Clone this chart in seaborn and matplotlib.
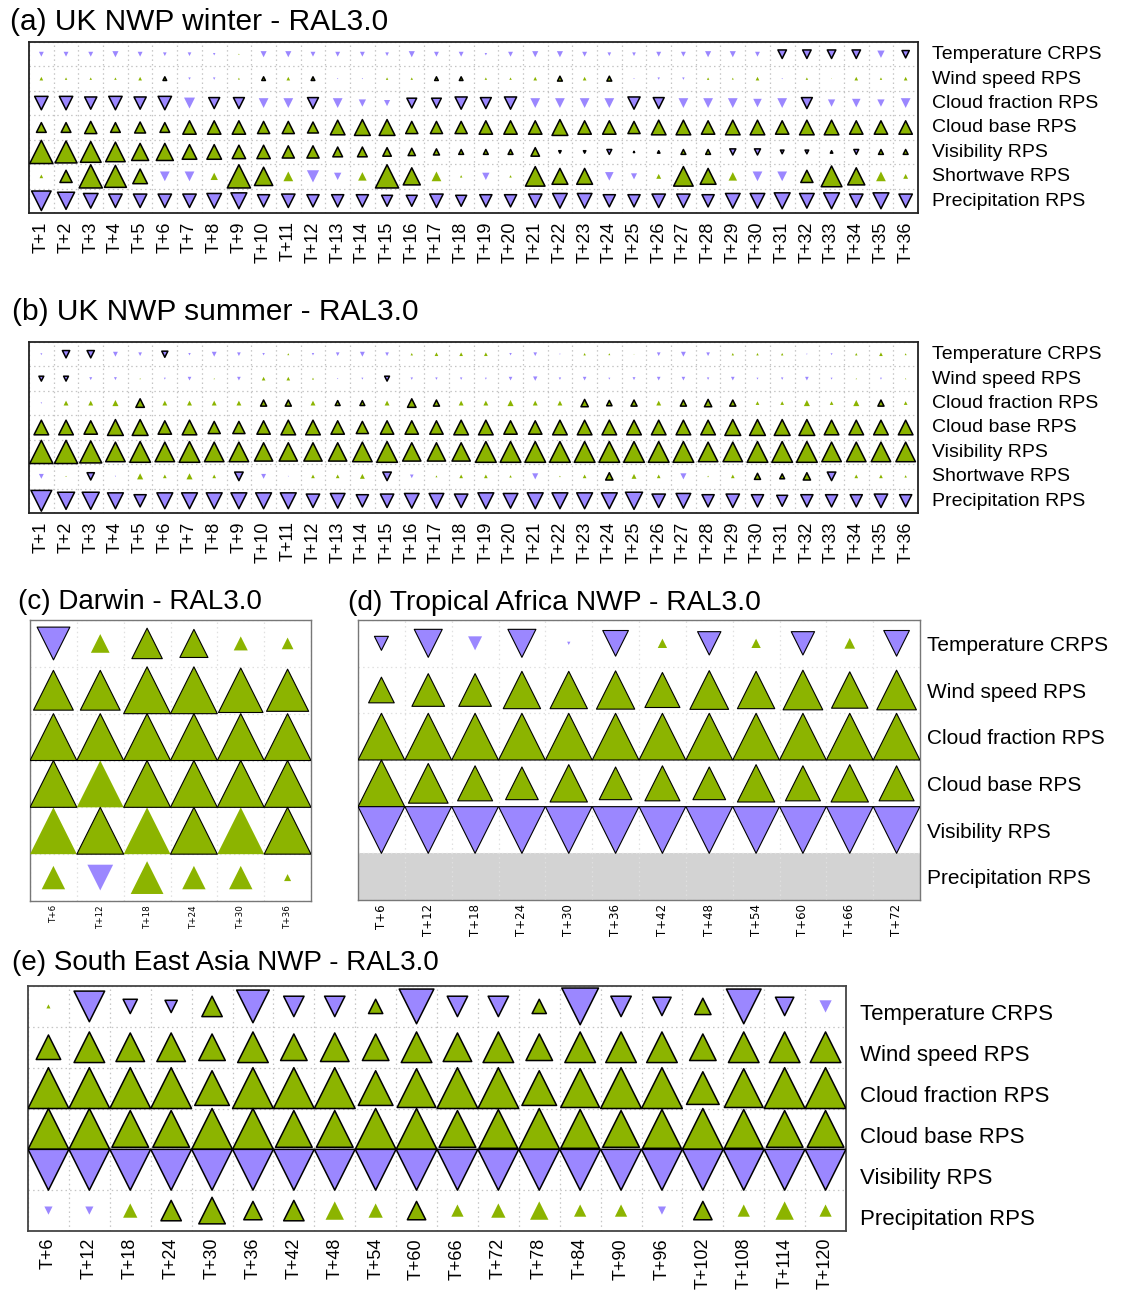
import numpy as np
import pandas as pd
import matplotlib
matplotlib.use("Agg")
import matplotlib.pyplot as plt
import matplotlib.transforms as mtransforms
import seaborn as sns

sns.set_style("white")
plt.rcParams["font.family"] = ["Liberation Sans", "DejaVu Sans"]
plt.rcParams["text.color"] = "black"
plt.rcParams["xtick.color"] = "black"
plt.rcParams["ytick.color"] = "black"

GREEN = "#8cb400"
PURPLE = "#9b87ff"

# ---------------- labels ----------------
uk_rows = ["Temperature CRPS", "Wind speed RPS", "Cloud fraction RPS", "Cloud base RPS",
           "Visibility RPS", "Shortwave RPS", "Precipitation RPS"]
trop_rows = ["Temperature CRPS", "Wind speed RPS", "Cloud fraction RPS", "Cloud base RPS",
             "Visibility RPS", "Precipitation RPS"]
uk_cols = ["T+%d" % h for h in range(1, 37)]
darwin_cols = ["T+6", "T+12", "T+18", "T+24", "T+30", "T+36"]
africa_cols = ["T+6", "T+12", "T+18", "T+24", "T+30", "T+36", "T+42", "T+48", "T+54", "T+60", "T+66", "T+72"]
sea_cols = ["T+6", "T+12", "T+18", "T+24", "T+30", "T+36", "T+42", "T+48", "T+54", "T+60",
            "T+66", "T+72", "T+78", "T+84", "T+90", "T+96", "T+102", "T+108", "T+114", "T+120"]

# signed symbol size (0-10): + = improvement (green up), - = degradation (purple down)
# significance: '1' = outlined symbol
winter_vals = [
    [-2, -2, -2, -2.5, -2, -1.5, -1.5, -1, 0.5, -2.5, -2.5, -2, -2, -2, -1.5, -2.5, -2, -2,
     -1, -2, -2.5, -2.5, -2, -1.5, -1.5, -2, -2, -2.5, -2.5, -2, -3.5, -3.5, -3.5, -3.5, -3, -3],
    [1.5, 1, 1, 1, 1.5, 1.5, -1, -1, 0.8, 1.5, 1.5, 1.5, -0.5, -0.5, 1, 1, 1.5, 1.5,
     1, 1, 1.5, 2, 1.5, 2, -0.5, -1, -1, 1, 0.8, 1.5, -0.5, 1, 0.3, 1.5, 1, 1.5],
    [-5.5, -5.5, -5, -5.5, -5, -5.5, -4.5, -4.5, -4.5, -4, -4, -4.5, -4, -3, -2.5, -4, -4, -5,
     -4.5, -5, -4, -4, -4, -4, -5, -4.5, -4, -4, -4, -3.5, -4, -4.5, -3, -3.5, -3, -4],
    [4, 4, 5, 4, 4.5, 4, 5.5, 5.5, 5.5, 5, 5, 4.5, 6, 6.5, 6.5, 5, 5, 5,
     5.5, 5.5, 5.5, 6.5, 5.5, 5.5, 5, 6, 6, 5.5, 6, 6, 5.5, 6, 6, 5.5, 5.5, 5.5],
    [9.5, 9, 8.5, 8, 7, 7, 6, 6, 5.5, 5.5, 5, 5, 4, 4, 3.5, 3, 2.5, 2,
     2, 2, 3.5, -1, -1, -2, 0.5, 1, 2, 2, -2.5, -2.5, -1.5, -1.5, 1, -2, 2, 2],
    [1.5, 5, 9.5, 9, 6, -4, -4, 3, 9.5, 7.5, 4, -5, -3, 3.5, 9.5, 7, 4, 1,
     -3, 1, 8, 6.5, 6.5, -3.5, -2.5, 2, 8, 6.5, 3.5, -4, -4, 5, 8.5, 7, 4, 2],
    [-8, -7, -6, -5.5, -5.5, -5.5, -5.5, -6, -6.5, -5, -5.5, -5, -5, -5, -4.5, -4.5, -5.5, -4.5,
     -5, -5, -5.5, -6, -6, -5, -5, -5.5, -5.5, -5, -6, -6, -6.5, -6, -6.5, -5.5, -6.5, -5.5],
]
winter_sig = [
    "000000000000000000" + "000000000000111101",
    "000001000101000011" + "000101000000000000",
    "111111011001000111" + "110000110000010000",
    "1" * 36,
    "1" * 36,
    "011110001100001100" + "001110001100011100",
    "1" * 36,
]

summer_vals = [
    [-0.8, -3, -3, -2, -1.5, -2.5, -1, -2, -1.5, -1, 0.8, -1, -1.5, -2, -1.5, 1, 1.5, 1.5,
     1.5, -1, -1.5, -0.5, 1, 0.8, 0.3, -1.5, -2, -1.5, 1, 1, 1, -0.5, -0.8, 1, 1.5, 0.8],
    [-2, -2, -1.2, -1.2, 0.5, -0.8, -1.5, 0.5, -1.5, 1.5, 1.5, 0.8, -0.5, -0.8, -2, -1, -1, -1,
     -0.8, -1.5, -1.8, -1, -1.5, -0.8, -1.2, -1.5, -1.5, -1, -1.5, -0.8, -1, -1.5, -0.8, 0.5, -0.8, 0.5],
    [-0.6, 2, 2, 2.5, 3.5, 2, 2, 2, 2, 2.5, 2.5, 2, 2, 2, 2, 3.5, 2.5, 2,
     2, 2.5, 2, 2, 3, 2.2, 2.5, 2, 2.5, 3, 2.5, 1.5, 1.5, 2.5, 1.5, 2.5, 2.5, 1.5],
    [6, 6, 5.5, 6.5, 6.5, 5.5, 6, 5, 5, 5.5, 6, 6, 5.5, 5, 5.5, 5.5, 5.5, 6,
     6, 5.5, 5.5, 6, 6, 6, 6, 6, 6, 6, 6.5, 6.5, 6.5, 6.5, 6, 6, 6, 6],
    [9.5, 9.5, 9, 8, 8.5, 8, 8.5, 8, 8, 7.5, 7.5, 7.5, 7.5, 8, 8.5, 7.5, 7.5, 7.5,
     8.5, 8.5, 8.5, 8.5, 8.5, 8.5, 8.5, 8.5, 8.5, 8, 8, 8.5, 8.5, 8.5, 8, 8, 8, 8],
    [-2, 0.5, -3, -0.5, 2.5, 1.5, 2.5, 1.5, -3.5, -2, -0.4, 1.5, 1.5, 2, -3.5, -1.5, 0.8, 1.5,
     1.5, 1, -2.5, 0.6, 1.5, 3, 2, 1.5, -2.5, 0.6, 1.5, 2.5, 2, 3, -3.5, 1.5, 1.5, 1],
    [-8.5, -7, -7, -6.5, -5, -6.5, -6.5, -6.5, -6.5, -6.5, -6.5, -5.5, -6, -5, -5.5, -6, -6, -5.5,
     -6.5, -6, -6.5, -6.5, -6.5, -6.5, -7, -5.5, -6, -5, -5.5, -5, -4.5, -5, -5, -5, -5.5, -5],
]
summer_sig = [
    "011001000000000000" + "0" * 18,
    "110000000000001000" + "0" * 18,
    "000010000110110110" + "000011101110000010",
    "1" * 36,
    "1" * 36,
    "001000001000001000" + "000001000001111000",
    "1" * 36,
]

darwin_vals = [
    [-7, 4, 6.5, 6, 3, 2.5],
    [8.5, 8.5, 10, 10, 9.5, 9],
    [10, 10, 10, 10, 10, 10],
    [10, 10, 10, 10, 10, 10],
    [10, 10, 10, 10, 10, 10],
    [5, -5.5, 7, 5, 5, 1.5],
]
darwin_sig = ["101100", "111111", "111111", "101111", "010101", "000000"]

africa_vals = [
    [-3, -6, -3, -6, -0.7, -5.5, 2, -5, 2, -5, 2.3, -5.5],
    [5.5, 7, 7, 8, 8, 8.2, 7.5, 8.3, 8, 8.5, 7.8, 8.5],
    [10, 10, 10, 10, 10, 10, 10, 10, 10, 10, 10, 10],
    [10, 8.5, 7.5, 7, 8, 7, 7.5, 7, 8, 7.5, 8, 7.5],
    [-10, -10, -10, -10, -10, -10, -10, -10, -10, -10, -10, -10],
    None,
]
africa_sig = ["110101010101", "1" * 12, "1" * 12, "1" * 12, "1" * 12, None]

sea_vals = [
    [1, -7.5, -3.5, -3, 5, -8, -5, -5, 3.5, -8.5, -5, -5, 3.5, -9, -5, -4.5, 4, -8.5, -4.5, -3],
    [6, 7.5, 7, 7, 6.5, 7.5, 6.5, 7, 6.5, 7.5, 7, 7.5, 6.5, 7.5, 7.5, 7.5, 6.5, 7.5, 7.5, 7.5],
    [10, 10, 10, 10, 8.5, 10, 10, 10, 8.5, 9.5, 10, 10, 8.5, 9.5, 10, 10, 8, 9.5, 10, 10],
    [10, 10, 9, 9, 10, 10, 9, 9, 10, 10, 9, 9.5, 10, 9.5, 9, 9.5, 10, 9.5, 9, 9],
    [-10] * 20,
    [-2, -2, 3.5, 5, 6.5, 4.5, 5, 4.5, 3.5, 4.5, 3, 3.5, 4.5, 3, 3, -2, 4.5, 3, 4.5, 3],
]
sea_sig = ["0111111111" + "1111111110", "1" * 20, "1" * 20, "1" * 20, "1" * 20,
           "0001111001" + "0000001000"]

# ---------------- figure ----------------
W, H = 1125, 1300
DPI = 100
fig = plt.figure(figsize=(W / DPI, H / DPI), dpi=DPI)


def add_ax(x0, y0, x1, y1):
    return fig.add_axes([x0 / W, 1 - y1 / H, (x1 - x0) / W, (y1 - y0) / H])


def draw_panel(ax, vals, sig, rows, cols, cell_px, edge_lw, spine_col, spine_lw,
               show_rows=True, row_fs=14, row_pad=10, tick_fs=13, tick_pad=5,
               tick_family=None, grey_row=None, grid_col="#c4c4c4", row_shift_px=0):
    nr, nc = len(rows), len(cols)
    cell_pt = cell_px * 72.0 / DPI
    recs = []
    for i in range(nr):
        rv, rs = vals[i], sig[i]
        if rv is None:
            continue
        for j in range(nc):
            v = rv[j]
            if v == 0:
                continue
            recs.append(dict(x=j, y=i, area=(abs(v) / 10.0 * cell_pt) ** 2,
                             dir="up" if v > 0 else "down", sig=rs[j] == "1"))
    df = pd.DataFrame(recs)
    for d, marker, color in [("up", "^", GREEN), ("down", "v", PURPLE)]:
        for s in (False, True):
            sub = df[(df["dir"] == d) & (df["sig"] == s)]
            if sub.empty:
                continue
            sizes = {a: a for a in sub["area"].unique()}
            sns.scatterplot(data=sub, x="x", y="y", size="area", sizes=sizes,
                            marker=marker, color=color,
                            edgecolor="black" if s else "none",
                            linewidth=edge_lw if s else 0,
                            legend=False, ax=ax, zorder=3)
    if grey_row is not None:
        ax.axhspan(grey_row - 0.5, grey_row + 0.5, color="#d3d3d3", zorder=0.5, lw=0)
    ax.set_xlim(-0.5, nc - 0.5)
    ax.set_ylim(nr - 0.5, -0.5)
    ax.set_xlabel("")
    ax.set_ylabel("")
    ax.set_xticks(range(nc))
    ax.set_xticklabels(cols, rotation=90, fontsize=tick_fs,
                       family=tick_family if tick_family else None)
    ax.set_xticks(np.arange(nc + 1) - 0.5, minor=True)
    ax.set_yticks(np.arange(nr + 1) - 0.5, minor=True)
    ax.grid(False)
    ax.grid(which="minor", linestyle=(0, (1.2, 2.5)), color=grid_col, linewidth=0.9, zorder=0)
    ax.set_axisbelow(True)
    ax.yaxis.tick_right()
    ax.set_yticks(range(nr))
    if show_rows:
        ax.set_yticklabels(rows, fontsize=row_fs)
    else:
        ax.set_yticklabels([])
    ax.tick_params(axis="x", which="both", length=0, pad=tick_pad)
    ax.tick_params(axis="y", which="both", length=0, pad=row_pad)
    if row_shift_px:
        off = mtransforms.ScaledTranslation(0, -row_shift_px / DPI, fig.dpi_scale_trans)
        for lab in ax.get_yticklabels():
            lab.set_transform(lab.get_transform() + off)
    for sp in ax.spines.values():
        sp.set_visible(True)
        sp.set_color(spine_col)
        sp.set_linewidth(spine_lw)


ax_a = add_ax(29, 42, 918, 213)
draw_panel(ax_a, winter_vals, winter_sig, uk_rows, uk_cols, 171 / 7, 1.1, "#222222", 1.3,
           row_fs=14, row_pad=10, tick_fs=13, tick_pad=6, row_shift_px=-1.5)
ax_b = add_ax(29, 342, 918, 513)
draw_panel(ax_b, summer_vals, summer_sig, uk_rows, uk_cols, 171 / 7, 1.1, "#222222", 1.3,
           row_fs=14, row_pad=10, tick_fs=13, tick_pad=6, row_shift_px=-1.5)
ax_c = add_ax(30, 620, 311, 901)
draw_panel(ax_c, darwin_vals, darwin_sig, trop_rows, darwin_cols, 281 / 6, 0.8, "#777777", 1.0,
           show_rows=False, tick_fs=6.3, tick_pad=3, tick_family="DejaVu Sans",
           grid_col="#e0e0e0")
ax_d = add_ax(358, 620, 920, 900)
draw_panel(ax_d, africa_vals, africa_sig, trop_rows, africa_cols, 280 / 6, 0.8, "#777777", 1.0,
           row_fs=15, row_pad=5, tick_fs=8.5, tick_pad=3, tick_family="DejaVu Sans",
           grey_row=5, grid_col="#e0e0e0")
ax_e = add_ax(28, 986, 846, 1231)
draw_panel(ax_e, sea_vals, sea_sig, trop_rows, sea_cols, 245 / 6, 1.1, "#444444", 1.3,
           row_fs=16, row_pad=10, tick_fs=13, tick_pad=5, row_shift_px=6)

fig.text(10 / W, 1 - 22 / H, "(a) UK NWP winter - RAL3.0", fontsize=21.5, va="center", ha="left")
fig.text(12 / W, 1 - 312 / H, "(b) UK NWP summer - RAL3.0", fontsize=21.5, va="center", ha="left")
fig.text(18 / W, 1 - 602 / H, "(c) Darwin - RAL3.0", fontsize=20, va="center", ha="left")
fig.text(348 / W, 1 - 603 / H, "(d) Tropical Africa NWP - RAL3.0", fontsize=20.3, va="center", ha="left")
fig.text(12 / W, 1 - 963 / H, "(e) South East Asia NWP - RAL3.0", fontsize=20, va="center", ha="left")

fig.savefig("out.png", dpi=DPI, facecolor="white")
